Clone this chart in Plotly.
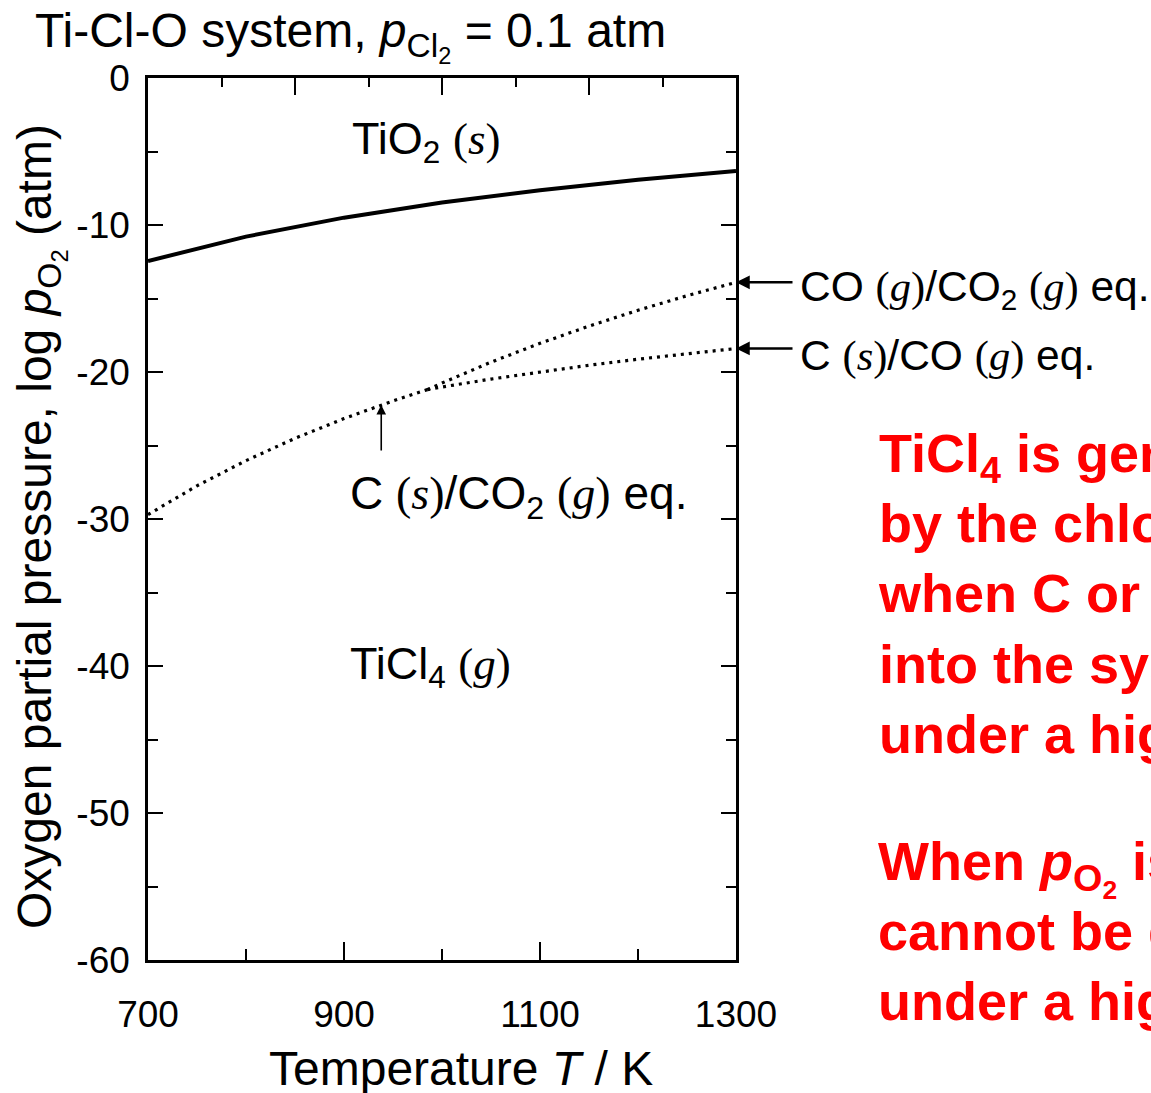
import plotly.graph_objects as go

# ---------------- data ----------------
T_tio2 = [700, 800, 900, 1000, 1100, 1200, 1300]
logp_tio2 = [-12.45, -10.79, -9.50, -8.47, -7.63, -6.92, -6.33]

T_c_co2 = [700, 750, 800, 850, 900, 950, 985]
logp_c_co2 = [-29.7, -27.74, -26.03, -24.51, -23.17, -21.97, -21.2]

T_co_co2 = [985, 1000, 1050, 1100, 1150, 1200, 1250, 1300]
logp_co_co2 = [-21.2, -20.75, -19.33, -18.05, -16.88, -15.80, -14.81, -13.9]

T_c_co = [985, 1000, 1050, 1100, 1150, 1200, 1250, 1300]
logp_c_co = [-21.2, -21.02, -20.48, -19.99, -19.54, -19.13, -18.75, -18.4]

x_tick_vals = [700, 900, 1100, 1300]
x_tick_labels = ["700", "900", "1100", "1300"]
x_minor_vals = [800, 1000, 1200]
top_tick_vals = [850, 1000, 1150]
top_minor_vals = [775, 925, 1075, 1225]
y_tick_vals = [0, -10, -20, -30, -40, -50, -60]
y_tick_labels = ["0", "-10", "-20", "-30", "-40", "-50", "-60"]

# ---------------- layout geometry ----------------
W, H = 1151, 1093
L, R, T, B = 148, 736, 78, 960


def px2x(px):
    return (px - L) / (R - L)


def py2y(py):
    return (B - py) / (B - T)


SANS = "Liberation Sans, Arial, Helvetica, sans-serif"
SERIF = "Liberation Serif"


def ser(s):
    return "<span style='font-family:%s'>(<i>%s</i>)</span>" % (SERIF, s)


fig = go.Figure()

fig.add_trace(go.Scatter(x=T_tio2, y=logp_tio2, mode="lines",
                         line=dict(color="black", width=4),
                         hoverinfo="skip", showlegend=False))
dot = dict(color="black", width=3.2, dash="3px,5px")
fig.add_trace(go.Scatter(x=T_c_co2, y=logp_c_co2, mode="lines", line=dot,
                         hoverinfo="skip", showlegend=False))
fig.add_trace(go.Scatter(x=T_co_co2, y=logp_co_co2, mode="lines", line=dot,
                         hoverinfo="skip", showlegend=False))
fig.add_trace(go.Scatter(x=T_c_co, y=logp_c_co, mode="lines", line=dot,
                         hoverinfo="skip", showlegend=False))
# invisible trace to activate top axis
fig.add_trace(go.Scatter(x=T_tio2, y=logp_tio2, xaxis="x2", mode="lines",
                         opacity=0, hoverinfo="skip", showlegend=False))

axis_common = dict(showgrid=False, zeroline=False, showline=True,
                   linecolor="black", linewidth=2.5, ticks="inside",
                   tickcolor="black", tickwidth=2.2)

fig.update_layout(
    width=W, height=H,
    margin=dict(l=L, r=W - R, t=T, b=H - B, pad=0),
    paper_bgcolor="white", plot_bgcolor="white",
    font=dict(family=SANS, color="black"),
    xaxis=dict(range=[700, 1300], tickmode="array", tickvals=x_tick_vals,
               ticktext=x_tick_labels, ticklen=18,
               tickfont=dict(size=37, family=SANS), ticklabelstandoff=20,
               minor=dict(tickmode="array", tickvals=x_minor_vals, ticklen=11,
                          ticks="inside", tickcolor="black", tickwidth=2.2),
               **axis_common),
    xaxis2=dict(range=[700, 1300], overlaying="x", side="top", anchor="y",
                tickmode="array", tickvals=top_tick_vals, ticklen=17,
                showticklabels=False,
                minor=dict(tickmode="array", tickvals=top_minor_vals, ticklen=9,
                           ticks="inside", tickcolor="black", tickwidth=2.2),
                **axis_common),
    yaxis=dict(range=[-60, 0], tickmode="array", tickvals=y_tick_vals,
               ticktext=y_tick_labels, ticklen=15, mirror="ticks",
               tickfont=dict(size=37, family=SANS), ticklabelstandoff=8,
               minor=dict(dtick=5, ticklen=10, ticks="inside",
                          tickcolor="black", tickwidth=2.2),
               **axis_common),
)

ann = []
# title
ann.append(dict(xref="paper", yref="paper", x=px2x(33), y=py2y(37),
                xanchor="left", yanchor="middle", showarrow=False,
                text="Ti-Cl-O system, <i>p</i><sub>Cl<sub>2</sub></sub> = 0.1 atm",
                font=dict(size=48, family=SANS)))
# axis titles
ann.append(dict(xref="paper", yref="paper", x=px2x(461), y=py2y(1068),
                xanchor="center", yanchor="middle", showarrow=False,
                text="Temperature <i>T</i> / K", font=dict(size=48, family=SANS)))
ann.append(dict(xref="paper", yref="paper", x=px2x(40), y=py2y(527),
                xanchor="center", yanchor="middle", showarrow=False, textangle=-90,
                text="Oxygen partial pressure, log <i>p</i><sub>O<sub>2</sub></sub> (atm)",
                font=dict(size=48, family=SANS)))
# region labels
ann.append(dict(x=906, y=-4.3, xanchor="left", yanchor="middle", showarrow=False,
                text="TiO<sub>2</sub> " + ser("s"), font=dict(size=45, family=SANS)))
ann.append(dict(x=904, y=-28.5, xanchor="left", yanchor="middle", showarrow=False,
                text="C " + ser("s") + "/CO<sub>2</sub> " + ser("g") + " eq.",
                font=dict(size=46, family=SANS)))
ann.append(dict(x=904, y=-40.0, xanchor="left", yanchor="middle", showarrow=False,
                text="TiCl<sub>4</sub> " + ser("g"), font=dict(size=45, family=SANS)))
# arrows on the right edge
for yv in (logp_co_co2[-1], logp_c_co[-1]):
    ann.append(dict(x=T_co_co2[-1], y=yv, ax=58, ay=0, text="", showarrow=True,
                    arrowhead=2, arrowsize=1.1, arrowwidth=2.5, arrowcolor="black"))
ann.append(dict(xref="paper", x=px2x(798), y=-14.4, xanchor="left", yanchor="middle",
                showarrow=False,
                text="CO " + ser("g") + "/CO<sub>2</sub> " + ser("g") + " eq.",
                font=dict(size=42.5, family=SANS)))
ann.append(dict(xref="paper", x=px2x(798), y=-18.9, xanchor="left", yanchor="middle",
                showarrow=False,
                text="C " + ser("s") + "/CO " + ser("g") + " eq.",
                font=dict(size=42.5, family=SANS)))
# vertical arrow to C/CO2 line
ann.append(dict(x=938, y=-22.24, ax=0, ay=47, text="", showarrow=True,
                arrowhead=2, arrowsize=1.2, arrowwidth=1.6, arrowcolor="black"))
# red commentary text (clipped by page edge in the reference)
red = dict(size=54, family="Liberation Sans, Arial, sans-serif", color="#ff0000")
ann.append(dict(xref="paper", yref="paper", x=px2x(876), y=py2y(421),
                xanchor="left", yanchor="top", align="left", showarrow=False,
                text="<b>TiCl<sub>4</sub> is generated<br>by the chlorination<br>"
                     "when C or CO is introduced<br>into the system<br>"
                     "under a high temperature.</b>",
                font=red))
ann.append(dict(xref="paper", yref="paper", x=px2x(876), y=py2y(829),
                xanchor="left", yanchor="top", align="left", showarrow=False,
                text="<b>When <i>p</i><sub>O<sub>2</sub></sub> is high, TiCl<sub>4</sub><br>"
                     "cannot be generated<br>under a high <i>p</i><sub>O<sub>2</sub></sub>.</b>",
                font=red))

fig.update_layout(annotations=ann)
fig.write_html("out.html")
